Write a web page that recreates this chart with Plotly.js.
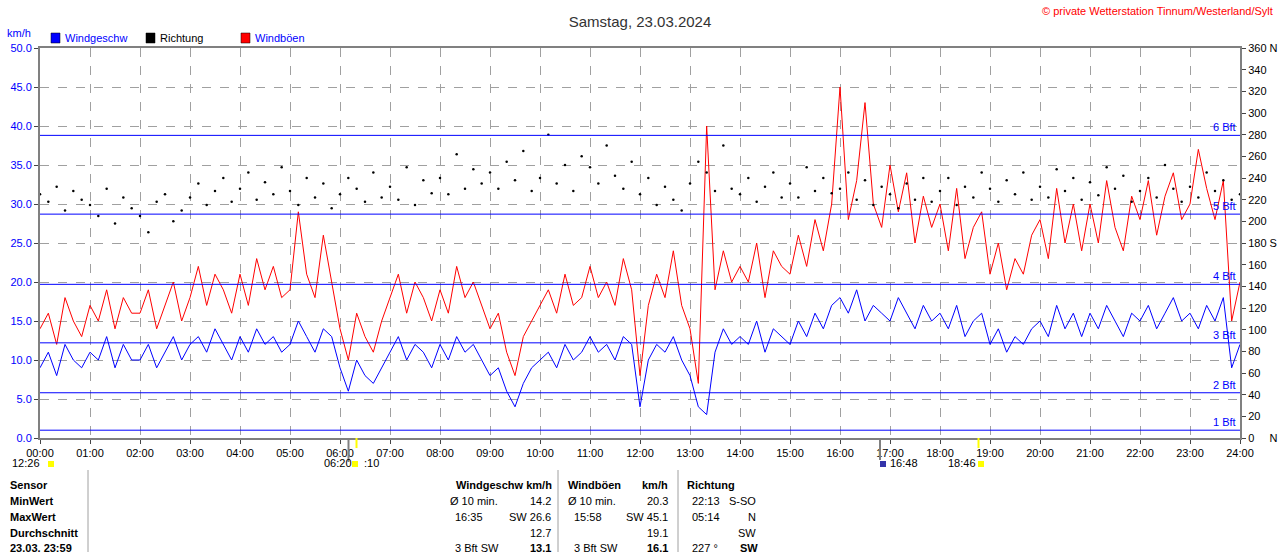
<!DOCTYPE html>
<html>
<head>
<meta charset="utf-8">
<script src="https://cdn.plot.ly/plotly-3.0.1.min.js"></script>
<style>body{margin:0;background:#fff}#graph{width:1280px;height:552px}</style>
</head>
<body>
<div id="graph"></div>
<script>
// 10-min values, 00:00 .. 24:00
var windSpeed = [
 9,11,8,12,10,9, 11,10,13,9,12,10, 10,12,9,11,13,10, 12,13,11,14,12,10,
 13,11,14,12,13,11, 12,15,13,11,14,13, 9,6,10,8,7,9, 11,13,10,12,11,9,
 12,10,13,11,12,10, 8,9,6,4,7,9, 10,11,9,12,10,11, 13,11,12,10,13,12,
 4,10,12,11,13,10, 8,4,3,11,14,12, 13,12,15,11,14,13, 12,15,13,16,14,17,
 18,16,19,15,17,16, 15,18,16,14,17,15, 16,14,17,13,15,16, 12,14,11,13,12,14,
 15,13,17,14,16,13, 16,14,17,15,13,16, 15,17,14,16,18,15, 16,14,17,15,18,9, 12];
var windGusts = [
 14,16,12,18,15,13, 17,15,19,14,18,16, 16,19,14,17,20,15, 18,22,17,21,19,16,
 21,17,23,19,22,18, 19,29,21,18,26,20, 14,10,16,13,11,15, 18,21,16,20,18,15,
 19,16,22,18,20,17, 14,16,11,8,13,15, 17,19,16,21,17,18, 22,18,20,17,23,19,
 8,17,21,18,24,17, 14,7,40,19,24,20, 22,20,25,18,24,22, 21,26,22,28,24,30,
 45,28,33,43,30,27, 35,29,34,25,31,27, 30,24,32,23,27,29, 21,25,19,23,21,26,
 28,23,32,25,30,24, 30,25,33,27,24,31, 28,33,26,31,34,28, 30,37,32,28,33,15, 20];
var windDir = [
 225,218,232,210,228,220, 215,205,230,198,222,212, 205,190,218,225,200,210, 222,235,215,228,240,218,
 230,245,220,236,225,250, 228,215,240,222,235,212, 225,240,230,218,245,222, 232,220,250,215,238,226,
 240,225,262,230,248,235, 245,230,255,238,265,228, 240,280,235,252,228,260, 250,235,270,242,230,255,
 225,240,215,232,220,210, 235,255,245,228,270,230, 225,240,218,232,245,222, 235,222,250,228,240,226,
 230,245,220,238,215,232, 225,212,235,220,240,218, 228,240,215,232,222,245, 230,218,238,225,245,220,
 232,222,248,228,240,220, 236,224,250,230,242,218, 228,240,222,252,230,218, 232,222,245,228,238,220, 225];
var hourLabels = ["00:00","01:00","02:00","03:00","04:00","05:00","06:00","07:00","08:00","09:00","10:00","11:00","12:00",
 "13:00","14:00","15:00","16:00","17:00","18:00","19:00","20:00","21:00","22:00","23:00","24:00"];
var bftNames = ["1 Bft","2 Bft","3 Bft","4 Bft","5 Bft","6 Bft"];
var bftKmh = [1.0, 5.8, 12.2, 19.7, 28.7, 38.8];
var tableRows = ["Sensor","MinWert","MaxWert","Durchschnitt","23.03. 23:59"];
// [row, x px, anchor, text, bold]
var tableCells = [
 [0,554,'right','Windgeschw km/h',1],[0,566,'left','Windböen',1],[0,670,'right','km/h',1],[0,685,'left','Richtung',1],
 [1,448,'left','Ø 10 min.',0],[1,553,'right','14.2',0],[1,566,'left','Ø 10 min.',0],[1,670,'right','20.3',0],[1,690,'left','22:13',0],[1,758,'right','S-SO',0],
 [2,453,'left','16:35',0],[2,553,'right','SW 26.6',0],[2,572,'left','15:58',0],[2,670,'right','SW 45.1',0],[2,690,'left','05:14',0],[2,758,'right','N',0],
 [3,553,'right','12.7',0],[3,670,'right','19.1',0],[3,758,'right','SW',0],
 [4,453,'left','3 Bft SW',0],[4,553,'right','13.1',1],[4,572,'left','3 Bft SW',0],[4,670,'right','16.1',1],[4,690,'left','227 °',0],[4,760,'right','SW',1]];

var t = windSpeed.map(function(v,i){return i/6;});
var F = "Liberation Sans, Arial, sans-serif";
function px(x){return (x-40)/1200;}
function py(y){return (438-y)/390;}

var data = [
 {x:t, y:windGusts, type:'scatter', mode:'lines', line:{color:'#ff0000', width:1}, hoverinfo:'skip'},
 {x:t, y:windSpeed, type:'scatter', mode:'lines', line:{color:'#0000ff', width:1}, hoverinfo:'skip'},
 {x:t, y:windDir, yaxis:'y2', type:'scatter', mode:'markers', marker:{color:'#000', size:2.5}, hoverinfo:'skip'}
];

var shapes = [], ann = [];
function txt(x,y,s,anchor,color,size){
  ann.push({xref:'paper', yref:'paper', x:px(x), y:py(y), text:s, showarrow:false, xanchor:anchor, yanchor:'middle',
    font:{family:F, size:size||11, color:color||'#000'}});
}
bftKmh.forEach(function(v,i){
  shapes.push({type:'line', xref:'x', yref:'y', x0:0, x1:24, y0:v, y1:v, line:{color:'#0000ff', width:1}});
  ann.push({xref:'x', yref:'y', x:23.95, y:v, text:bftNames[i], showarrow:false, xanchor:'right', yanchor:'bottom',
    font:{family:F, size:11, color:'#0000ff'}});
});
// legend
[["#0000ff","Windgeschw","#0000ff",51],["#000","Richtung","#000",146],["#ff0000","Windböen","#0000ff",241]].forEach(function(l){
  shapes.push({type:'rect', xref:'paper', yref:'paper', x0:px(l[3]), x1:px(l[3]+9), y0:py(43), y1:py(33), fillcolor:l[0], line:{color:'#000', width:0.5}});
  txt(l[3]+12, 38, l[1], 'left', l[2]);
});
txt(5, 33, 'km/h', 'left', '#0000ff');
txt(1275, 11, '© private Wetterstation Tinnum/Westerland/Sylt', 'right', '#ff0000');
// sun times
txt(10, 463, '12:26', 'left'); txt(322, 463, '06:20', 'left'); txt(362, 463, ':10', 'left');
txt(888, 463, '16:48', 'left'); txt(946, 463, '18:46', 'left');
[[40,'#ffff00',48],[352,'#ffff00',352],[880,'#3333aa',880],[978,'#ffff00',978]].forEach(function(m){
  shapes.push({type:'rect', xref:'paper', yref:'paper', x0:px(m[2]), x1:px(m[2]+6), y0:py(467), y1:py(461), fillcolor:m[1], line:{width:0}});
});
shapes.push({type:'line', xref:'x', yref:'paper', x0:6.17, x1:6.17, y0:0, y1:py(462), line:{color:'#808080', width:2}});
shapes.push({type:'line', xref:'x', yref:'paper', x0:6.33, x1:6.33, y0:0, y1:py(448), line:{color:'#ffff00', width:2}});
shapes.push({type:'line', xref:'x', yref:'paper', x0:16.8, x1:16.8, y0:0, y1:py(460), line:{color:'#808080', width:2}});
shapes.push({type:'line', xref:'x', yref:'paper', x0:18.77, x1:18.77, y0:0, y1:py(448), line:{color:'#ffff00', width:2}});
// table
var rowY = [485,501,517,533,548];
tableRows.forEach(function(r,i){ txt(8, rowY[i], '<b>'+r+'</b>', 'left'); });
tableCells.forEach(function(c){ txt(c[1], rowY[c[0]], c[4] ? '<b>'+c[3]+'</b>' : c[3], c[2]); });
[88,558,678].forEach(function(x){
  shapes.push({type:'line', xref:'paper', yref:'paper', x0:px(x), x1:px(x), y0:py(470), y1:py(552), line:{color:'#a0a0a0', width:1}});
});

var layout = {
  width:1280, height:552, margin:{l:40, r:40, t:48, b:114},
  paper_bgcolor:'#fff', plot_bgcolor:'#fff', showlegend:false,
  title:{text:'Samstag, 23.03.2024', x:0.5, y:0.97, font:{family:F, size:15, color:'#333'}},
  xaxis:{range:[0,24], tickvals:hourLabels.map(function(h,i){return i;}), ticktext:hourLabels,
    showgrid:true, gridcolor:'#a0a0a0', griddash:'dash', gridwidth:1, zeroline:false,
    showline:true, linecolor:'#808080', linewidth:2, mirror:true, ticks:'outside', ticklen:4,
    tickfont:{family:F, size:11, color:'#000'}},
  yaxis:{range:[0,50], dtick:5, tickformat:'.1f', showgrid:true, gridcolor:'#a0a0a0', griddash:'dash',
    zeroline:false, showline:true, linecolor:'#808080', linewidth:2, ticks:'outside', ticklen:4,
    tickfont:{family:F, size:11, color:'#0000ff'}},
  yaxis2:{range:[0,360], overlaying:'y', side:'right', showgrid:false, zeroline:false,
    showline:true, linecolor:'#808080', linewidth:2, ticks:'outside', ticklen:4,
    tickvals:[0,20,40,60,80,100,120,140,160,180,200,220,240,260,280,300,320,340,360],
    ticktext:['0     N','20','40','60','80','100','120','140','160','180 S','200','220','240','260','280','300','320','340','360 N'],
    tickfont:{family:F, size:11, color:'#000'}},
  shapes:shapes, annotations:ann
};
Plotly.newPlot('graph', data, layout, {displayModeBar:false, staticPlot:true});
</script>
</body>
</html>
